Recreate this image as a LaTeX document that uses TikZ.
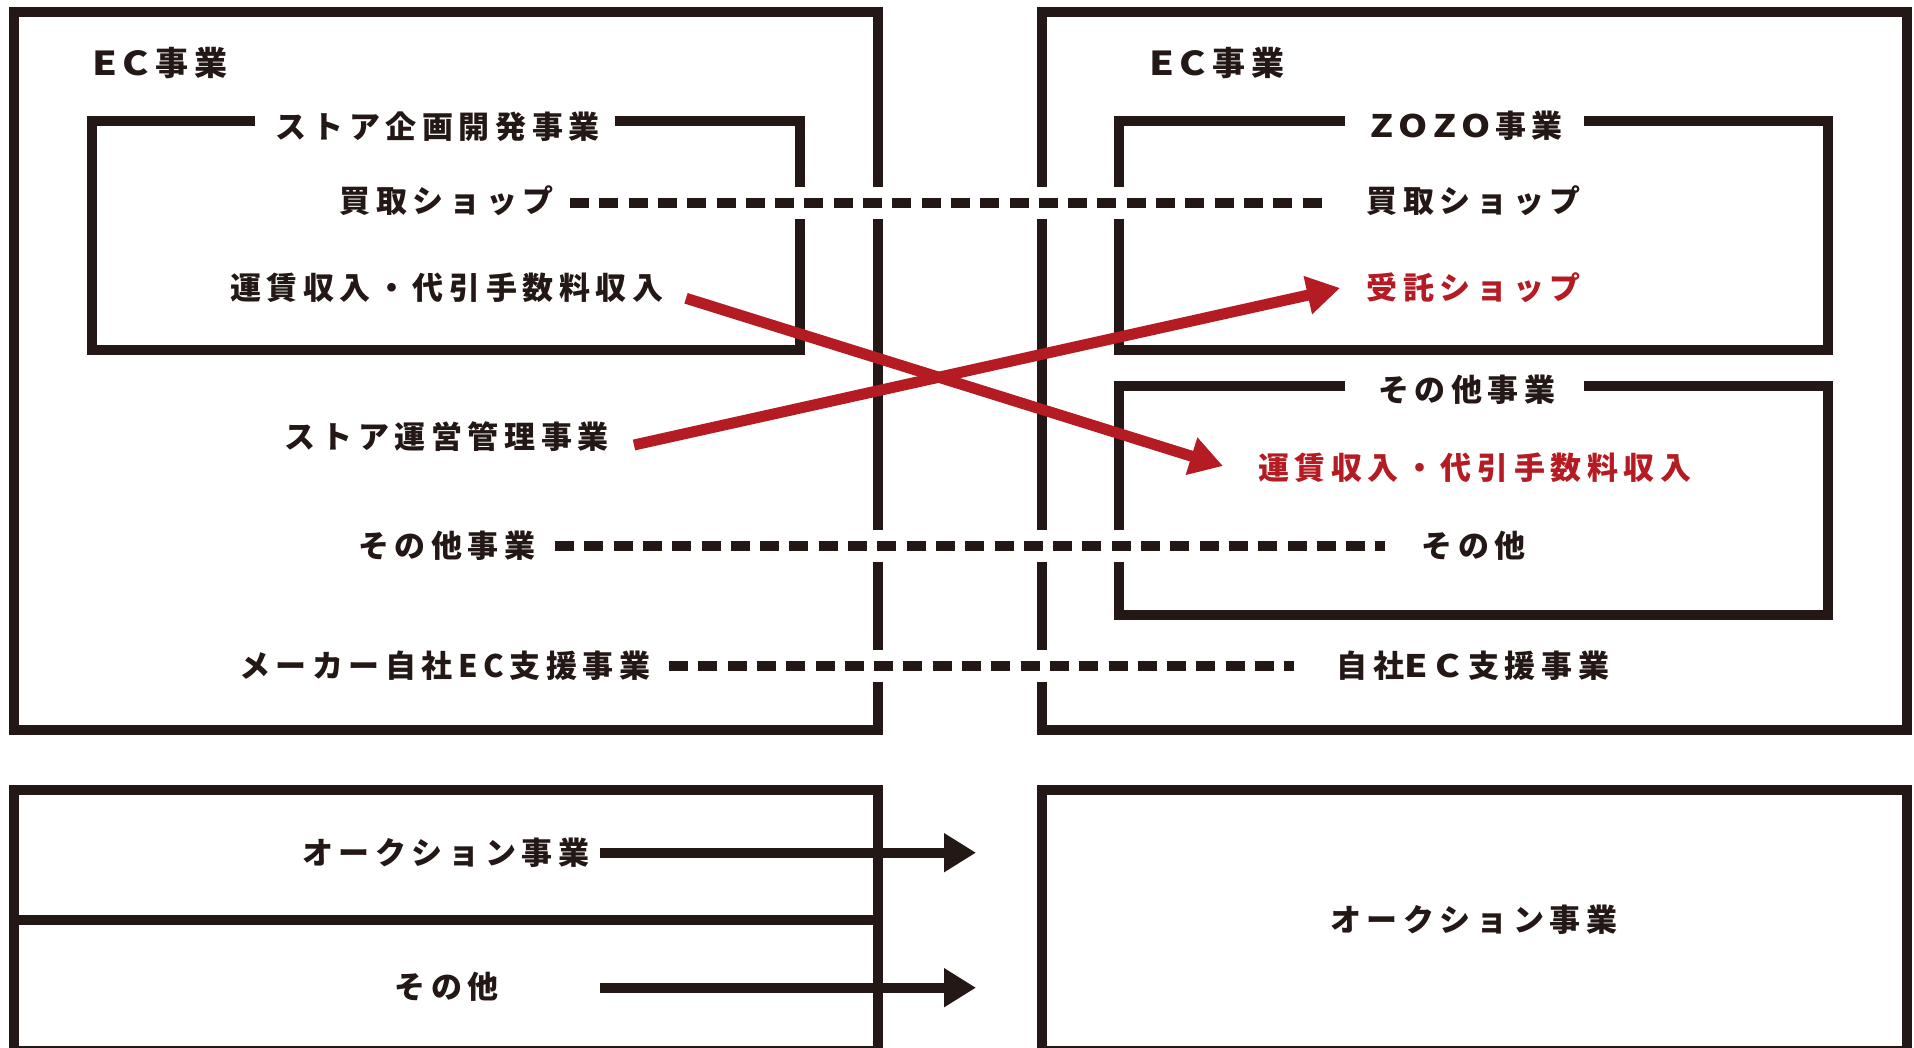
\documentclass[tikz,border=0pt]{standalone}
\usepackage{fontspec}
\usepackage{graphicx}
\usetikzlibrary{arrows.meta}
\newfontfamily\jp{Noto Sans CJK JP}[LetterSpace=18]
\definecolor{ink}{RGB}{35,24,21}
\definecolor{accent}{RGB}{181,27,35}
\newcommand{\wl}[1]{\scalebox{1.2}[1]{#1}}
\tikzset{
  boxline/.style={draw=ink,line width=10pt,line join=miter},
  lbl/.style={font=\jp\bfseries\fontsize{31}{33}\selectfont,text=ink,inner sep=0pt,anchor=center,xshift=2.8pt},
  redlbl/.style={lbl,text=accent},
  titlelbl/.style={lbl},
  eclbl/.style={lbl,font=\jp\bfseries\fontsize{33}{35}\selectfont,anchor=west,xshift=0pt},
  dotline/.style={draw=ink,line width=10pt,dash pattern=on 19pt off 10.3pt,
    preaction={draw=white,line width=32pt,solid}},
  redarrow/.style={draw=accent,line width=11pt,-{Triangle[length=33pt,width=37pt]}},
  blkarrow/.style={draw=ink,line width=10pt,-{Triangle[length=32pt,width=37pt]}}
}
\begin{document}
\begin{tikzpicture}[x=1pt,y=-1pt]
\useasboundingbox (0,0) rectangle (1914,1048);
\clip (0,0) rectangle (1914,1048);
\fill[white] (0,0) rectangle (1914,1048);
% outer boxes
\draw[boxline] (13.5,12) rectangle (878.3,730);
\draw[boxline] (1041.5,12) rectangle (1907,730);
% inner boxes with title gaps
\draw[boxline] (255,121.5) -- (92,121.5) -- (92,350.5) -- (800,350.5) -- (800,121.5) -- (615,121.5);
\draw[boxline] (1344.5,121.5) -- (1119,121.5) -- (1119,350.5) -- (1828,350.5) -- (1828,121.5) -- (1583.6,121.5);
\draw[boxline] (1344.5,386) -- (1119,386) -- (1119,615) -- (1828,615) -- (1828,386) -- (1583.6,386);
% bottom boxes
\draw[boxline] (13.5,789.5) rectangle (878.3,1051);
\draw[boxline] (13.5,920) -- (878.3,920);
\draw[boxline] (1041.5,789.5) rectangle (1907,1051);

% labels
\node[eclbl] (ecL) at (89,63) {\wl{E}\kern6pt\wl{C}\kern6pt 事業};
\node[eclbl] (ecR) at (1146,63) {\wl{E}\kern6pt\wl{C}\kern6pt 事業};
\node[titlelbl] (storePlan) at (435,127) {ストア企画開発事業};
\node[titlelbl] (zozo) at (1464,126) {\wl{Z}\kern5pt\wl{O}\kern5pt\wl{Z}\kern5pt\wl{O}\kern5pt 事業};
\node[titlelbl] (otherBizR) at (1464,390) {その他事業};
\node[lbl] (kaitoriL) at (444,201) {買取ショップ};
\node[lbl] (unchinL) at (444,288) {運賃収入・代引手数料収入};
\node[lbl] (storeOp) at (444,436.5) {ストア運営管理事業};
\node[lbl] (otherBizL) at (444,546) {その他事業};
\node[lbl] (maker) at (442,666) {メーカー自社EC支援事業};
\node[lbl] (kaitoriR) at (1471,201) {買取ショップ};
\node[redlbl] (jutaku) at (1471,288) {受託ショップ};
\node[redlbl] (unchinR) at (1472,468) {運賃収入・代引手数料収入};
\node[lbl] (otherR) at (1471,546) {その他};
\node[lbl] (jishaEC) at (1470,666) {自社\wl{E}\kern8pt\wl{C}\kern8pt 支援事業};
\node[lbl] (aucL) at (443,853) {オークション事業};
\node[lbl] (otherBL) at (444,987) {その他};
\node[lbl] (aucR) at (1471,920) {オークション事業};

% connector end points
\coordinate (d1s) at (570,202.7);
\coordinate (d1e) at (1323,202.7);
\coordinate (d2s) at (555,546);
\coordinate (d2e) at (1385,546);
\coordinate (d3s) at (669,666);
\coordinate (d3e) at (1294,666);
\coordinate (r1s) at (686,298.3);
\coordinate (r1e) at (1223,466);
\coordinate (r2s) at (634,445);
\coordinate (r2e) at (1340,288);
\coordinate (b1s) at (600,852.7);
\coordinate (b1e) at (976,852.7);
\coordinate (b2s) at (600,987.7);
\coordinate (b2e) at (976,987.7);

% dashed connectors
\draw[dotline] (d1s) -- (d1e);
\draw[dotline] (d2s) -- (d2e);
\draw[dotline] (d3s) -- (d3e);
% red arrows
\draw[redarrow] (r1s) -- (r1e);
\draw[redarrow] (r2s) -- (r2e);
% black arrows
\draw[blkarrow] (b1s) -- (b1e);
\draw[blkarrow] (b2s) -- (b2e);
\end{tikzpicture}
\end{document}
